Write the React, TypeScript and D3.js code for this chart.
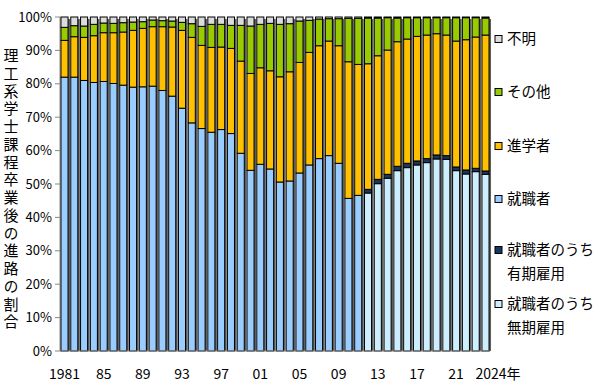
import React from "react";
import * as d3 from "d3";

// 年（1981〜2024）
const years = [
  1981, 1982, 1983, 1984, 1985, 1986, 1987, 1988, 1989, 1990,
  1991, 1992, 1993, 1994, 1995, 1996, 1997, 1998, 1999, 2000,
  2001, 2002, 2003, 2004, 2005, 2006, 2007, 2008, 2009, 2010,
  2011, 2012, 2013, 2014, 2015, 2016, 2017, 2018, 2019, 2020,
  2021, 2022, 2023, 2024,
];

// 就職者のうち無期雇用（2012年以降）
const mukiKoyo = [
  0, 0, 0, 0, 0, 0, 0, 0, 0, 0,
  0, 0, 0, 0, 0, 0, 0, 0, 0, 0,
  0, 0, 0, 0, 0, 0, 0, 0, 0, 0,
  0, 47.3, 50.1, 51.7, 54.0, 54.9, 55.7, 56.4, 57.5, 57.4,
  54.0, 53.0, 53.7, 52.9,
];

// 就職者のうち有期雇用（2012年以降）
const yukiKoyo = [
  0, 0, 0, 0, 0, 0, 0, 0, 0, 0,
  0, 0, 0, 0, 0, 0, 0, 0, 0, 0,
  0, 0, 0, 0, 0, 0, 0, 0, 0, 0,
  0, 1.1, 1.3, 1.2, 1.3, 1.3, 1.2, 1.2, 1.2, 1.1,
  1.1, 1.2, 1.0, 1.0,
];

// 就職者（2011年まで）
const shushoku = [
  82.0, 82.0, 81.0, 80.4, 80.7, 80.1, 79.6, 79.0, 79.1, 79.3,
  78.0, 76.3, 72.7, 68.3, 66.6, 65.5, 66.3, 65.1, 59.2, 54.1,
  55.9, 54.5, 50.6, 50.9, 53.3, 55.7, 57.6, 58.5, 56.2, 45.7,
  46.6, 0, 0, 0, 0, 0, 0, 0, 0, 0,
  0, 0, 0, 0,
];

// 進学者
const shingaku = [
  11.0, 12.1, 12.9, 14.0, 14.6, 15.2, 15.9, 17.0, 17.5, 17.8,
  19.1, 20.7, 23.3, 25.6, 24.9, 25.4, 24.7, 25.5, 27.6, 29.0,
  28.9, 29.4, 31.5, 32.7, 33.1, 33.7, 33.8, 34.3, 35.2, 40.9,
  39.2, 37.6, 37.0, 37.2, 37.3, 37.2, 37.3, 37.0, 36.3, 36.1,
  37.7, 39.0, 39.3, 40.7,
];

// その他
const sonota = [
  3.9, 3.3, 3.4, 3.4, 2.9, 2.8, 2.8, 2.5, 2.0, 2.0,
  1.8, 1.8, 2.4, 4.1, 5.7, 6.9, 6.8, 6.9, 10.7, 14.2,
  13.0, 14.2, 15.7, 14.4, 12.4, 9.6, 8.0, 6.7, 8.1, 13.0,
  13.8, 13.7, 11.3, 9.7, 7.1, 6.4, 5.6, 5.2, 4.8, 5.2,
  7.0, 6.6, 5.8, 5.1,
];

// 不明
const fumei = [
  3.1, 2.6, 2.7, 2.2, 1.8, 1.9, 1.7, 1.5, 1.4, 0.9,
  1.1, 1.2, 1.6, 2.0, 2.8, 2.2, 2.2, 2.5, 2.5, 2.7,
  2.2, 1.9, 2.2, 2.0, 1.2, 1.0, 0.6, 0.5, 0.5, 0.4,
  0.4, 0.3, 0.3, 0.2, 0.3, 0.2, 0.2, 0.2, 0.2, 0.2,
  0.2, 0.2, 0.2, 0.3,
];

const xTickYears = [1981, 1985, 1989, 1993, 1997, 2001, 2005, 2009, 2013, 2017, 2021, 2024];
const xTickLabels = ["1981", "85", "89", "93", "97", "01", "05", "09", "13", "17", "21", "2024年"];
const yTicks = [0, 10, 20, 30, 40, 50, 60, 70, 80, 90, 100];
const yTitle = "理工系学士課程卒業後の進路の割合";

const KEYS = ["muki", "yuki", "shushoku", "shingaku", "sonota", "fumei"];
const COLORS: Record<string, string> = {
  muki: "#cdeeff",
  yuki: "#17375e",
  shushoku: "#99ccff",
  shingaku: "#ffc000",
  sonota: "#99cc00",
  fumei: "#dcdcdc",
};

const legendItems = [
  { key: "fumei", lines: ["不明"], y: 39 },
  { key: "sonota", lines: ["その他"], y: 92 },
  { key: "shingaku", lines: ["進学者"], y: 146 },
  { key: "shushoku", lines: ["就職者"], y: 199 },
  { key: "yuki", lines: ["就職者のうち", "有期雇用"], y: 250 },
  { key: "muki", lines: ["就職者のうち", "無期雇用"], y: 304 },
];

const W = 600;
const H = 389;
const MARGIN = { top: 17, right: 110, bottom: 38, left: 60 };
const FONT = "'Noto Sans CJK JP', 'Noto Sans', sans-serif";

export default function App() {
  const rows = years.map((y, i) => ({
    year: String(y),
    muki: mukiKoyo[i],
    yuki: yukiKoyo[i],
    shushoku: shushoku[i],
    shingaku: shingaku[i],
    sonota: sonota[i],
    fumei: fumei[i],
  }));

  const x = d3
    .scaleBand()
    .domain(years.map(String))
    .range([MARGIN.left, W - MARGIN.right])
    .paddingInner(0.28)
    .paddingOuter(0.1);

  const y = d3
    .scaleLinear()
    .domain([0, 100])
    .range([H - MARGIN.bottom, MARGIN.top]);

  const series = d3.stack<any>().keys(KEYS)(rows);
  const bw = x.bandwidth();
  const y0 = y(0);

  return (
    <svg
      width={W}
      height={H}
      style={{ position: "absolute", left: 0, top: 0, background: "#fff" }}
      fontFamily={FONT}
    >
      {/* y軸目盛 */}
      {yTicks.map((t) => (
        <g key={t}>
          <line x1={MARGIN.left - 5} x2={MARGIN.left} y1={y(t)} y2={y(t)} stroke="#888" />
          <text x={MARGIN.left - 8} y={y(t)} dy="0.35em" textAnchor="end" fontSize={13} fill="#000">
            {t}%
          </text>
        </g>
      ))}
      <line x1={MARGIN.left} x2={MARGIN.left} y1={y(100)} y2={y0} stroke="#888" />

      {/* 影 */}
      {rows.map((r) => (
        <rect
          key={"s" + r.year}
          x={(x(r.year) ?? 0) + 2}
          y={y(100) + 2}
          width={bw}
          height={y0 - y(100) - 2}
          fill="#5f5f5f"
        />
      ))}

      {/* 積み上げ棒 */}
      {series.map((s) => (
        <g key={s.key}>
          {s.map((d: any) =>
            d[1] - d[0] > 0 ? (
              <rect
                key={d.data.year}
                x={x(d.data.year)}
                y={y(d[1])}
                width={bw}
                height={y(d[0]) - y(d[1])}
                fill={COLORS[s.key]}
                stroke="#000"
                strokeWidth={1}
              />
            ) : null
          )}
        </g>
      ))}

      <line x1={MARGIN.left} x2={W - MARGIN.right} y1={y0} y2={y0} stroke="#888" />

      {/* x軸ラベル */}
      {xTickYears.map((yr, i) => {
        const cx = (x(String(yr)) ?? 0) + bw / 2;
        const last = i === xTickYears.length - 1;
        return (
          <text
            key={yr}
            x={last ? cx - 10 : cx}
            y={374}
            dy="0.35em"
            textAnchor={last ? "start" : "middle"}
            fontSize={14}
            fill="#000"
          >
            {xTickLabels[i]}
          </text>
        );
      })}

      {/* y軸タイトル（縦書き） */}
      <text
        x={11}
        y={190}
        textAnchor="middle"
        fontSize={15}
        fill="#000"
        style={{ writingMode: "vertical-rl", letterSpacing: "2.75px" }}
      >
        {yTitle}
      </text>

      {/* 凡例 */}
      {legendItems.map((it) => (
        <g key={it.key}>
          <rect
            x={495}
            y={it.y - 3.5}
            width={7}
            height={7}
            fill={COLORS[it.key]}
            stroke="#000"
            strokeWidth={1}
          />
          {it.lines.map((ln, j) => (
            <text
              key={j}
              x={507}
              y={it.y + j * 24}
              dy="0.35em"
              fontSize={14.5}
              fill="#000"
            >
              {ln}
            </text>
          ))}
        </g>
      ))}
    </svg>
  );
}
